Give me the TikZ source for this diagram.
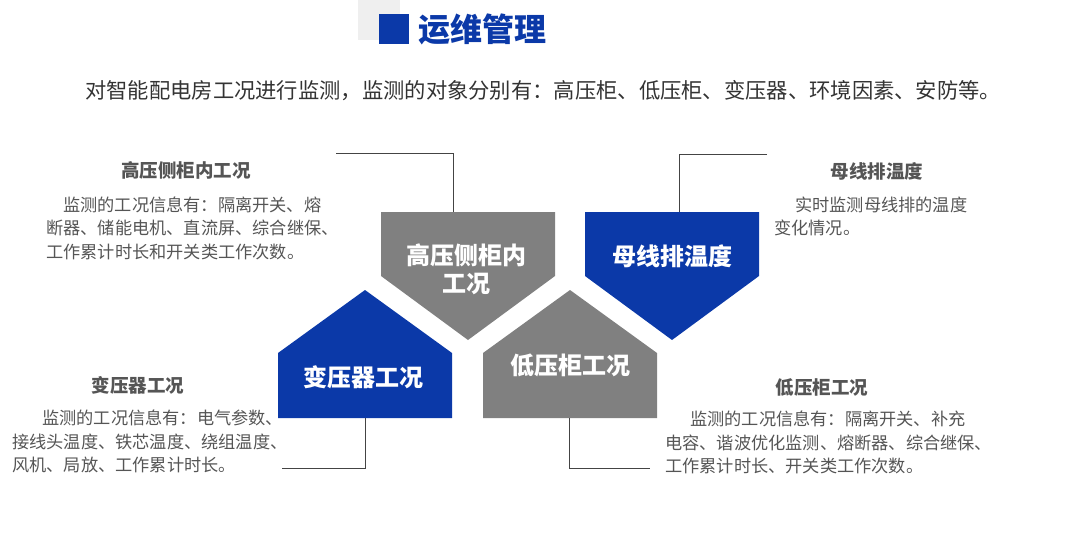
\documentclass[tikz,border=0pt]{standalone}
\usepackage{fontspec}
\setmainfont{Noto Sans CJK SC}
\definecolor{mblue}{RGB}{11,57,168}
\definecolor{mgray}{RGB}{128,128,128}
\definecolor{lgray}{RGB}{239,239,239}
\definecolor{subtxt}{RGB}{51,51,51}
\definecolor{bodytxt}{RGB}{85,85,85}
\definecolor{linec}{RGB}{68,68,68}
\tikzset{
  shapetext/.style={text=white, font=\fontsize{24}{28}\selectfont\bfseries, align=center, inner sep=0pt},
  blocktitle/.style={text=bodytxt, font=\fontsize{18.5}{22}\selectfont\bfseries, inner sep=0pt},
  bodyline/.style={text=bodytxt, font=\fontsize{17.2}{20}\selectfont, anchor=west, inner sep=0pt},
  conn/.style={draw=linec, line width=1pt},
}
\begin{document}
\begin{tikzpicture}[x=1pt,y=-1pt]
\useasboundingbox (0,0) rectangle (1065,552);
% header
\fill[lgray] (358,0) rectangle (400,40);
\fill[mblue] (379,14) rectangle (409,44);
\node[anchor=west, inner sep=0pt, text=mblue, font=\fontsize{32}{36}\selectfont\bfseries] (title) at (418,29) {运维管理};
\node[anchor=west, inner sep=0pt, text=subtxt, font=\fontsize{21.3}{24}\selectfont] (sub) at (85,91) {对智能配电房工况进行监测，监测的对象分别有：高压柜、低压柜、变压器、环境因素、安防等。};
% shapes
\fill[mgray] (381,212) -- (555,212) -- (555,276) -- (468,340) -- (381,276) -- cycle;
\fill[mblue] (585,212) -- (759,212) -- (759,276) -- (672,340) -- (585,276) -- cycle;
\fill[mblue] (365,290) -- (452,353) -- (452,418) -- (278,418) -- (278,353) -- cycle;
\fill[mgray] (570,290) -- (657,353) -- (657,418) -- (483,418) -- (483,353) -- cycle;
\node[shapetext] (hv) at (466,269) {高压侧柜内\\工况};
\node[shapetext] (bus) at (672,256) {母线排温度};
\node[shapetext] (xf) at (363,377) {变压器工况};
\node[shapetext] (lv) at (570,365) {低压柜工况};
% connector anchors
\coordinate (hvTop) at (453,212);
\coordinate (busTop) at (679,212);
\coordinate (xfBot) at (365,418);
\coordinate (lvBot) at (569,418);
\coordinate (l1) at (336,153);
\coordinate (l2) at (767,154);
\coordinate (l3) at (282,468);
\coordinate (l4) at (650,468);
\draw[conn] (l1) -| (hvTop);
\draw[conn] (l2) -| (busTop);
\draw[conn] (xfBot) |- (l3);
\draw[conn] (lvBot) |- (l4);
% top-left block
\node[blocktitle] (t1) at (186,170) {高压侧柜内工况};
\node[bodyline] (t1a) at (63,205) {监测的工况信息有：隔离开关、熔};
\node[bodyline] (t1b) at (46,228) {断器、储能电机、直流屏、综合继保、};
\node[bodyline] (t1c) at (46,252) {工作累计时长和开关类工作次数。};
% top-right block
\node[blocktitle] (t2) at (877,171) {母线排温度};
\node[bodyline] (t2a) at (795,205) {实时监测母线排的温度};
\node[bodyline] (t2b) at (774,228) {变化情况。};
% bottom-left block
\node[blocktitle] (t3) at (138,385) {变压器工况};
\node[bodyline] (t3a) at (42,418) {监测的工况信息有：电气参数、};
\node[bodyline] (t3b) at (12,442) {接线头温度、铁芯温度、绕组温度、};
\node[bodyline] (t3c) at (12,465) {风机、局放、工作累计时长。};
% bottom-right block
\node[blocktitle] (t4) at (822,387) {低压柜工况};
\node[bodyline] (t4a) at (690,419) {监测的工况信息有：隔离开关、补充};
\node[bodyline] (t4b) at (665,443) {电容、谐波优化监测、熔断器、综合继保、};
\node[bodyline] (t4c) at (665,466) {工作累计时长、开关类工作次数。};
\end{tikzpicture}
\end{document}
